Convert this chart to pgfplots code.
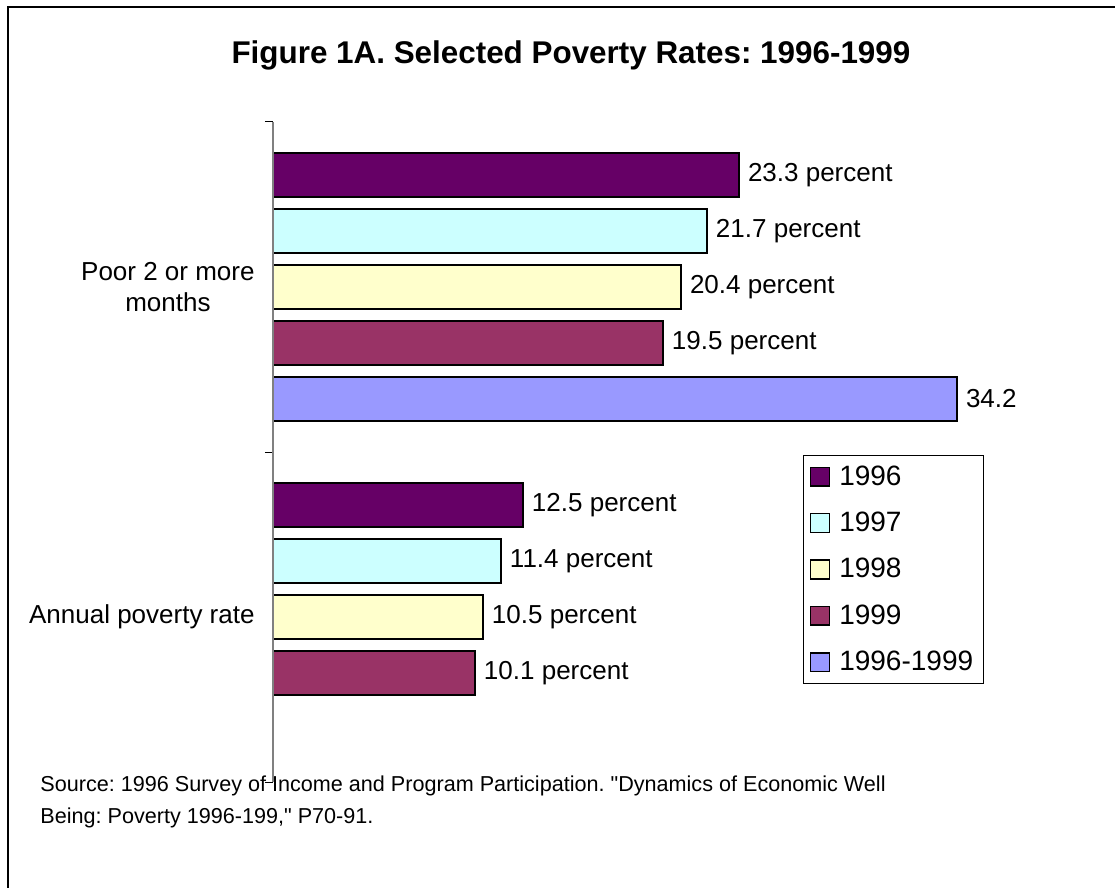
\documentclass[border=0pt]{standalone}
\usepackage{pgfplots}
\pgfplotsset{compat=1.18}
\usepackage{fontspec}
\setmainfont{Liberation Sans}
\definecolor{cA}{HTML}{660066}
\definecolor{cB}{HTML}{CCFFFF}
\definecolor{cC}{HTML}{FFFFCC}
\definecolor{cD}{HTML}{993366}
\definecolor{cE}{HTML}{9999FF}
\definecolor{axgray}{HTML}{808080}
\begin{document}
\frenchspacing
\begin{tikzpicture}
\begin{axis}[
  at={(0pt,0pt)}, anchor=south west,
  scale only axis, width=400pt, height=330pt,
  xbar, bar width=22pt,
  xmin=0, xmax=40, ymin=-0.5, ymax=1.5, y dir=reverse,
  axis line style={draw=none},
  xtick=\empty, ytick pos=left,
  ytick={0,1}, yticklabels={Poor 2 or more\\months, Annual poverty rate},
  major tick length=0pt,
  yticklabel style={align=center, inner sep=0pt, xshift=-9pt, font=\fontsize{13}{15.5}\selectfont},
  extra y ticks={-0.5,0.5,1.5}, extra y tick labels={},
  extra y tick style={major tick length=4pt, tick align=outside, tick style={black, line width=0.5pt}},
  extra description/.code={\draw[axgray, line width=1pt] (rel axis cs:0,0) -- (rel axis cs:0,1);},
  point meta=explicit symbolic,
  nodes near coords,
  nodes near coords style={anchor=west, inner sep=0pt, xshift=4pt, font=\fontsize{13}{15}\selectfont},
  legend style={at={(rel axis cs:0.663,0.4955)}, anchor=north west, draw=black, line width=0.5pt,
    font=\fontsize{14}{16}\selectfont, inner xsep=3pt, inner ysep=3pt, row sep=7.9pt, column sep=2.5pt,
    legend cell align=left},
  every axis plot post/.append style={legend image code/.code={
    \draw[#1, draw=black, line width=0.8pt] (0pt,-4.7pt) rectangle (9.4pt,4.7pt);}},
]
\addplot[fill=cA, draw=black, line width=1pt, bar shift=56pt] coordinates {(23.3,0) [23.3 percent] (12.5,1) [12.5 percent]};
\addplot[fill=cB, draw=black, line width=1pt, bar shift=28pt] coordinates {(21.7,0) [21.7 percent] (11.4,1) [11.4 percent]};
\addplot[fill=cC, draw=black, line width=1pt, bar shift=0pt] coordinates {(20.4,0) [20.4 percent] (10.5,1) [10.5 percent]};
\addplot[fill=cD, draw=black, line width=1pt, bar shift=-28pt] coordinates {(19.5,0) [19.5 percent] (10.1,1) [10.1 percent]};
\addplot[fill=cE, draw=black, line width=1pt, bar shift=-56pt] coordinates {(34.2,0) [34.2]};
\legend{1996,1997,1998,1999,1996-1999}
\end{axis}
% page furniture, in pixel units of the 1115x888 frame (axis corner at pixel 273,782)
\begin{scope}[x=0.5pt, y=-0.5pt, shift={(-136.5pt,391pt)}]
\draw[line width=1pt] (8,888) -- (8,7) -- (1115,7);
\node[font=\bfseries\fontsize{15.7}{18}\selectfont, anchor=base] at (571,64) {Figure 1A. Selected Poverty Rates: 1996-1999};
\node[anchor=base west, align=left, inner sep=0pt, font=\fontsize{10.8}{16}\selectfont] at (40,824)
  {Source: 1996 Survey of Income and Program Participation. \textquotedbl Dynamics of Economic Well\\Being: Poverty 1996-199,\textquotedbl{} P70-91.};
\pgfresetboundingbox
\path[use as bounding box] (0,0) rectangle (1115,888);
\end{scope}
\end{tikzpicture}
\end{document}
